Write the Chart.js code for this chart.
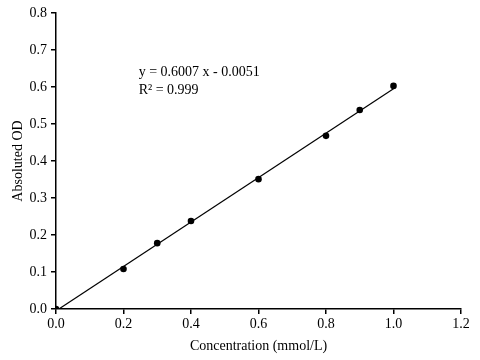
<!DOCTYPE html>
<html>
<head>
<meta charset="utf-8">
<script src="https://cdn.jsdelivr.net/npm/chart.js@4"></script>
<style>
html,body{margin:0;padding:0;background:#fff;}
#wrap{width:480px;height:360px;}
</style>
</head>
<body>
<div id="wrap"><canvas id="c" width="480" height="360"></canvas></div>
<script>
const concentrations = [0.0, 0.2, 0.3, 0.4, 0.6, 0.8, 0.9, 1.0];
const absorbance = [0.0, 0.108, 0.178, 0.238, 0.351, 0.468, 0.538, 0.603];
const slope = 0.6007;
const intercept = -0.0051;
const fitRange = [0.0085, 1.0];
const equationText = ["y = 0.6007 x - 0.0051", "R² = 0.999"];
const equationAt = [0.245, 0.64];
const xTicks = [0, 0.2, 0.4, 0.6, 0.8, 1.0, 1.2];
const yTicks = [0, 0.1, 0.2, 0.3, 0.4, 0.5, 0.6, 0.7, 0.8];

const pts = concentrations.map((x, i) => ({x, y: absorbance[i]}));
const fitLine = fitRange.map(x => ({x, y: slope * x + intercept}));
const FONT = "'Liberation Serif', 'Times New Roman', serif";

const textPlugin = {
  id: 'eqText',
  afterDatasetsDraw(chart) {
    const ctx = chart.ctx;
    const xs = chart.scales.x, ys = chart.scales.y;
    const px = xs.getPixelForValue(equationAt[0]);
    const py = ys.getPixelForValue(equationAt[1]);
    ctx.save();
    ctx.fillStyle = '#000';
    ctx.font = '14px ' + FONT;
    ctx.textBaseline = 'middle';
    ctx.textAlign = 'left';
    ctx.fillText(equationText[0], px, py);
    ctx.fillText(equationText[1], px, py + 18);
    ctx.restore();
  }
};

new Chart(document.getElementById('c'), {
  type: 'scatter',
  data: {
    datasets: [
      {
        data: fitLine,
        showLine: true,
        borderColor: '#000',
        borderWidth: 1.2,
        pointRadius: 0,
        fill: false
      },
      {
        data: pts,
        backgroundColor: '#000',
        borderColor: '#000',
        pointRadius: 3.3,
        pointBorderWidth: 0
      }
    ]
  },
  options: {
    responsive: false,
    animation: false,
    events: [],
    layout: {padding: {top: 13, right: 19, left: 0, bottom: 0}},
    plugins: {legend: {display: false}, tooltip: {enabled: false}},
    scales: {
      x: {
        type: 'linear', min: 0, max: 1.2,
        afterBuildTicks: s => { s.ticks = xTicks.map(v => ({value: v})); },
        afterFit: s => { s.height = 51; },
        grid: {drawOnChartArea: false, drawTicks: true, tickLength: 5, color: '#000', lineWidth: 1.5},
        border: {display: true, color: '#000', width: 1.5},
        ticks: {color: '#000', font: {family: FONT, size: 14}, padding: 2, maxRotation: 0,
          callback: v => Number(v).toFixed(1)},
        title: {display: true, text: 'Concentration (mmol/L)', color: '#000',
          font: {family: FONT, size: 14}, padding: {top: 0, bottom: 5}}
      },
      y: {
        type: 'linear', min: 0, max: 0.8,
        afterBuildTicks: s => { s.ticks = yTicks.map(v => ({value: v})); },
        afterFit: s => { s.width = 56; },
        grid: {drawOnChartArea: false, drawTicks: true, tickLength: 5, color: '#000', lineWidth: 1.5},
        border: {display: true, color: '#000', width: 1.5},
        ticks: {color: '#000', font: {family: FONT, size: 14}, padding: 4,
          callback: v => Number(v).toFixed(1)},
        title: {display: true, text: 'Absoluted OD', color: '#000',
          font: {family: FONT, size: 14}, padding: {top: 10, bottom: 0}}
      }
    }
  },
  plugins: [textPlugin]
});
</script>
</body>
</html>
